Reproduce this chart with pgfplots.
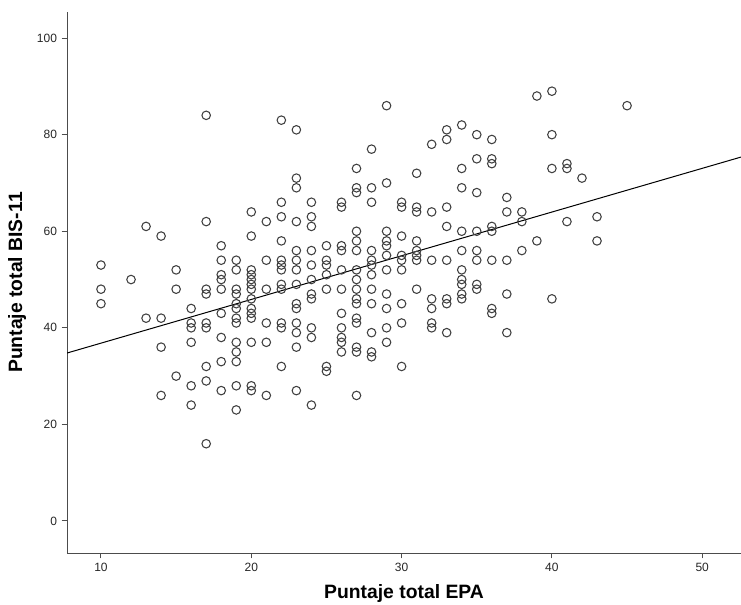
\documentclass[border=0pt]{standalone}
\usepackage{fontspec}
\setmainfont{Liberation Sans}
\usepackage{pgfplots}
\pgfplotsset{compat=1.18}
\usetikzlibrary{calc}
\begin{document}
\begin{tikzpicture}
\begin{axis}[name=ax, scale only axis, width=505.5pt, height=405.75pt,
 xmin=7.74, xmax=52.58, ymin=-6.63, ymax=105.4,
 axis x line*=bottom, axis y line*=left,
 axis line style={-, black!70, line width=0.75pt},
 xtick={10,20,...,50}, ytick={0,20,...,100},
 tick align=outside, major tick length=4pt,
 tick style={black!70, line width=0.75pt},
 ticklabel style={font=\fontsize{9}{10}\selectfont, text=black!85},
 /pgf/number format/assume math mode=true,
 xlabel={Puntaje total EPA}, ylabel={Puntaje total BIS-11},
 label style={font=\bfseries\fontsize{14.5}{16}\selectfont},
 xlabel style={at={(axis description cs:0.5,-0.074)}, anchor=center},
 ylabel style={at={(axis description cs:-0.074,0.5)}, anchor=center},
 clip=true]
\addplot[only marks, mark=o, mark size=3.2pt, mark options={black!75, line width=0.8pt}] table {
x y
10 53
10 48
10 45
12 50
13 61
13 42
14 59
14 42
14 36
14 26
15 52
15 48
15 30
16 44
16 41
16 40
16 37
16 28
16 24
17 84
17 62
17 48
17 47
17 41
17 40
17 32
17 29
17 16
18 57
18 54
18 51
18 50
18 48
18 43
18 38
18 33
18 27
19 54
19 52
19 48
19 47
19 45
19 44
19 42
19 41
19 37
19 35
19 33
19 28
19 23
20 64
20 59
20 52
20 51
20 50
20 49
20 48
20 46
20 44
20 43
20 42
20 37
20 28
20 27
21 62
21 54
21 48
21 41
21 37
21 26
22 83
22 66
22 63
22 58
22 54
22 53
22 52
22 49
22 48
22 41
22 40
22 32
23 81
23 71
23 69
23 62
23 56
23 54
23 52
23 49
23 45
23 44
23 41
23 39
23 36
23 27
24 66
24 63
24 61
24 56
24 53
24 50
24 47
24 46
24 40
24 38
24 24
25 57
25 54
25 53
25 51
25 48
25 32
25 31
26 66
26 65
26 57
26 56
26 52
26 48
26 43
26 40
26 38
26 37
26 35
27 73
27 69
27 68
27 60
27 58
27 56
27 52
27 50
27 48
27 46
27 45
27 42
27 41
27 36
27 35
27 26
28 77
28 69
28 66
28 56
28 54
28 53
28 51
28 48
28 45
28 39
28 35
28 34
29 86
29 70
29 60
29 58
29 57
29 55
29 52
29 47
29 44
29 40
29 37
30 66
30 65
30 59
30 55
30 54
30 52
30 45
30 41
30 32
31 72
31 65
31 64
31 58
31 56
31 55
31 54
31 48
32 78
32 64
32 54
32 46
32 44
32 41
32 40
33 81
33 79
33 65
33 61
33 54
33 46
33 45
33 39
34 82
34 73
34 69
34 60
34 56
34 52
34 50
34 49
34 47
34 46
35 80
35 75
35 68
35 60
35 56
35 54
35 49
35 48
36 79
36 75
36 74
36 61
36 60
36 54
36 44
36 43
37 67
37 64
37 54
37 47
37 39
38 64
38 62
38 56
39 88
39 58
40 89
40 80
40 73
40 46
41 74
41 73
41 62
42 71
43 63
43 58
45 86
};
\addplot[black, line width=0.75pt] coordinates {(7.74,34.78) (52.58,75.36)};
\end{axis}
\pgfresetboundingbox
\path ($(ax.south west)+(-50.25pt,-38.25pt)$) rectangle ($(ax.north east)+(0,9pt)$);
\end{tikzpicture}
\end{document}
